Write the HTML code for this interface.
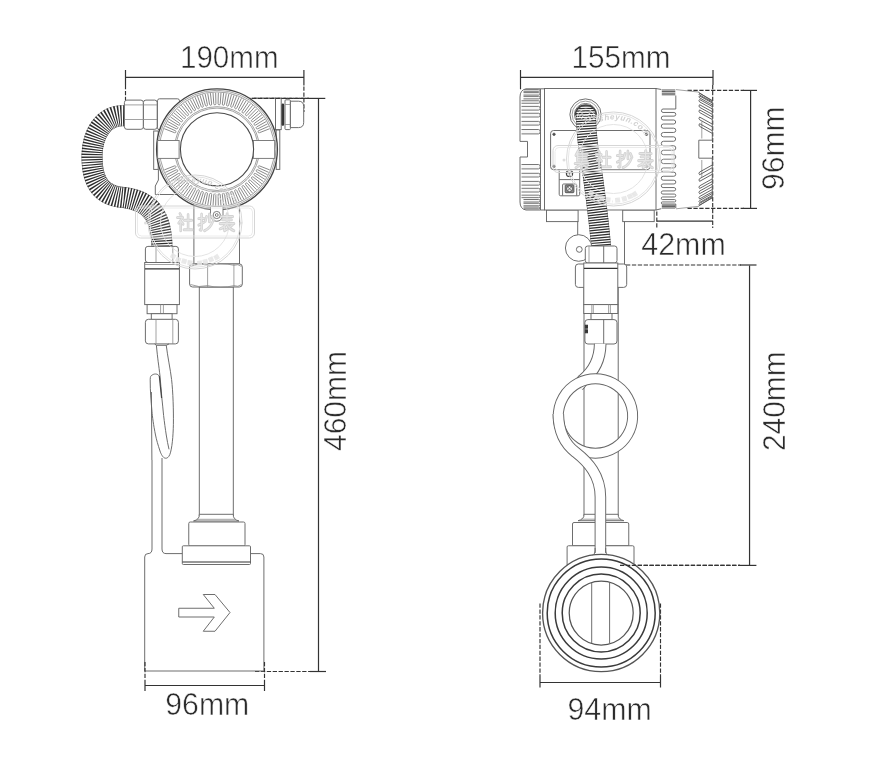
<!DOCTYPE html>
<html><head><meta charset="utf-8"><title>dimensions</title>
<style>
html,body{margin:0;padding:0;background:#fff;}
body{width:884px;height:784px;overflow:hidden;font-family:"Liberation Sans",sans-serif;}
svg{display:block}
.d{fill:none;stroke:#666;stroke-width:0.95}
.df{fill:#fff;stroke:#666;stroke-width:0.95}
.b{fill:none;stroke:#333;stroke-width:1.6}
.l{fill:none;stroke:#8a8a8a;stroke-width:0.8}
.lf{fill:#fff;stroke:#8a8a8a;stroke-width:0.8}
.k{fill:none;stroke:#333;stroke-width:1.2}
.ds{fill:none;stroke:#333;stroke-width:1.15;stroke-dasharray:4.3 1.6}
.w{fill:none;stroke:#d2d2d2;stroke-width:1}
.t{font-family:"Liberation Sans",sans-serif;fill:#2b2b2b;stroke:#fff;stroke-width:0.55px;paint-order:fill stroke;will-change:transform;}
</style></head><body>
<svg width="884" height="784" viewBox="0 0 884 784">
<rect width="884" height="784" fill="#fff"/>
<line x1="125.5" y1="77.3" x2="304" y2="77.3" class="k" />
<line x1="125.5" y1="70" x2="125.5" y2="85" class="k" />
<line x1="303.9" y1="70" x2="303.9" y2="85.5" class="k" />
<line x1="125.5" y1="85" x2="125.5" y2="100" class="ds" />
<line x1="303.9" y1="86.5" x2="303.9" y2="112" class="ds" />
<text x="180" y="68" font-size="31" textLength="98.5" lengthAdjust="spacingAndGlyphs" class="t">190mm</text>
<line x1="254" y1="98.4" x2="309" y2="98.4" class="ds" />
<line x1="309" y1="98.4" x2="325.3" y2="98.4" class="k" />
<line x1="318.5" y1="98.4" x2="318.5" y2="671.5" class="k" />
<line x1="255" y1="671.5" x2="311" y2="671.5" class="ds" />
<line x1="310" y1="671.5" x2="326" y2="671.5" class="k" />
<text x="346" y="451" font-size="31" textLength="100" lengthAdjust="spacingAndGlyphs" class="t" transform="rotate(-90 346 451)">460mm</text>
<rect x="193.9" y="200" width="45.6" height="64" rx="0" class="df" />
<rect x="199.3" y="287" width="34" height="229" rx="0" class="df" />
<path d="M127,116 C103,113 92.5,135 92,155 C91.5,184 103,196 124,197.5 C150,201 162,215 162,249" fill="none" stroke="#999" stroke-width="21"/>
<path d="M127,116 C103,113 92.5,135 92,155 C91.5,184 103,196 124,197.5 C150,201 162,215 162,249" fill="none" stroke="#fff" stroke-width="19.8"/>
<path d="M127,116 C103,113 92.5,135 92,155 C91.5,184 103,196 124,197.5 C150,201 162,215 162,249" fill="none" stroke="#2e2e2e" stroke-width="21" stroke-dasharray="1.25 1.3"/>
<rect x="157.5" y="98.8" width="22" height="31" rx="2" class="df" />
<rect x="124.4" y="100.1" width="19" height="29.2" rx="2.5" class="df" />
<rect x="143.4" y="100.1" width="13.8" height="29.2" rx="2.5" class="df" />
<line x1="125" y1="104.9" x2="157" y2="104.9" class="l" />
<line x1="125" y1="119.5" x2="157" y2="119.5" class="l" />
<rect x="250" y="98.3" width="26" height="31.5" rx="0" class="df" />
<rect x="275.5" y="98.3" width="5.7" height="31.3" rx="0" class="df" />
<rect x="282.1" y="104.2" width="1.5" height="21" rx="0.8" class="b" style="fill:#333;stroke-width:1.2"/>
<rect x="285" y="99.8" width="5.4" height="29.8" rx="1" class="df" />
<path d="M290.4,101.2 H298.5 Q303.7,101.2 303.7,106.5 V122.3 Q303.7,127.6 298.5,127.6 H290.4 Z" class="df" />
<line x1="285" y1="104.5" x2="290.4" y2="104.5" class="l" />
<line x1="285" y1="124.5" x2="290.4" y2="124.5" class="l" />
<line x1="252" y1="98.4" x2="309" y2="98.4" class="ds" />
<rect x="153.7" y="131" width="4.5" height="38.4" rx="0" class="df" />
<rect x="276.2" y="130" width="3.6" height="39.4" rx="0" class="df" />
<path d="M158.4,169.4 V180 L155.3,186 V194.5 H177" class="d" />
<circle cx="217" cy="149.3" r="60.4" class="df" style="stroke:#444;stroke-width:1.35"/>
<circle cx="217" cy="149.3" r="59" class="l" />
<circle cx="217" cy="149.3" r="57.4" class="l" />
<circle cx="217" cy="149.3" r="42.6" class="l" />
<circle cx="217" cy="149.3" r="41.2" class="l" />
<path d="M164.28,128.69 L174.53,132.70 A1,1 0 0 0 175.36,130.72 L165.31,126.23" class="l" style="stroke:#8a8a8a;stroke-width:1"/>
<path d="M166.45,123.84 L176.27,128.79 A1,1 0 0 0 177.29,126.89 L167.71,121.49" class="l" style="stroke:#8a8a8a;stroke-width:1"/>
<path d="M169.06,119.21 L178.38,125.06 A1,1 0 0 0 179.56,123.26 L170.53,116.98" class="l" style="stroke:#8a8a8a;stroke-width:1"/>
<path d="M172.10,114.84 L180.82,121.54 A1,1 0 0 0 182.17,119.87 L173.77,112.77" class="l" style="stroke:#8a8a8a;stroke-width:1"/>
<path d="M175.53,110.78 L183.59,118.27 A1,1 0 0 0 185.09,116.73 L177.39,108.87" class="l" style="stroke:#8a8a8a;stroke-width:1"/>
<path d="M179.33,107.06 L186.65,115.27 A1,1 0 0 0 188.28,113.88 L181.36,105.33" class="l" style="stroke:#8a8a8a;stroke-width:1"/>
<path d="M183.46,103.71 L189.97,112.57 A1,1 0 0 0 191.73,111.34 L185.64,102.18" class="l" style="stroke:#8a8a8a;stroke-width:1"/>
<path d="M187.88,100.77 L193.54,110.20 A1,1 0 0 0 195.41,109.14 L190.20,99.45" class="l" style="stroke:#8a8a8a;stroke-width:1"/>
<path d="M192.56,98.25 L197.31,108.17 A1,1 0 0 0 199.27,107.29 L195.00,97.15" class="l" style="stroke:#8a8a8a;stroke-width:1"/>
<path d="M197.46,96.18 L201.26,106.50 A1,1 0 0 0 203.29,105.81 L199.99,95.32" class="l" style="stroke:#8a8a8a;stroke-width:1"/>
<path d="M202.53,94.58 L205.34,105.21 A1,1 0 0 0 207.43,104.71 L205.13,93.96" class="l" style="stroke:#8a8a8a;stroke-width:1"/>
<path d="M207.73,93.46 L209.53,104.32 A1,1 0 0 0 211.66,104.01 L210.37,93.09" class="l" style="stroke:#8a8a8a;stroke-width:1"/>
<path d="M213.01,92.84 L213.79,103.81 A1,1 0 0 0 215.93,103.71 L215.67,92.72" class="l" style="stroke:#8a8a8a;stroke-width:1"/>
<path d="M218.33,92.72 L218.07,103.71 A1,1 0 0 0 220.21,103.81 L220.99,92.84" class="l" style="stroke:#8a8a8a;stroke-width:1"/>
<path d="M223.63,93.09 L222.34,104.01 A1,1 0 0 0 224.47,104.32 L226.27,93.46" class="l" style="stroke:#8a8a8a;stroke-width:1"/>
<path d="M228.87,93.96 L226.57,104.71 A1,1 0 0 0 228.66,105.21 L231.47,94.58" class="l" style="stroke:#8a8a8a;stroke-width:1"/>
<path d="M234.01,95.32 L230.71,105.81 A1,1 0 0 0 232.74,106.50 L236.54,96.18" class="l" style="stroke:#8a8a8a;stroke-width:1"/>
<path d="M239.00,97.15 L234.73,107.29 A1,1 0 0 0 236.69,108.17 L241.44,98.25" class="l" style="stroke:#8a8a8a;stroke-width:1"/>
<path d="M243.80,99.45 L238.59,109.14 A1,1 0 0 0 240.46,110.20 L246.12,100.77" class="l" style="stroke:#8a8a8a;stroke-width:1"/>
<path d="M248.36,102.18 L242.27,111.34 A1,1 0 0 0 244.03,112.57 L250.54,103.71" class="l" style="stroke:#8a8a8a;stroke-width:1"/>
<path d="M252.64,105.33 L245.72,113.88 A1,1 0 0 0 247.35,115.27 L254.67,107.06" class="l" style="stroke:#8a8a8a;stroke-width:1"/>
<path d="M256.61,108.87 L248.91,116.73 A1,1 0 0 0 250.41,118.27 L258.47,110.78" class="l" style="stroke:#8a8a8a;stroke-width:1"/>
<path d="M260.23,112.77 L251.83,119.87 A1,1 0 0 0 253.18,121.54 L261.90,114.84" class="l" style="stroke:#8a8a8a;stroke-width:1"/>
<path d="M263.47,116.98 L254.44,123.26 A1,1 0 0 0 255.62,125.06 L264.94,119.21" class="l" style="stroke:#8a8a8a;stroke-width:1"/>
<path d="M266.29,121.49 L256.71,126.89 A1,1 0 0 0 257.73,128.79 L267.55,123.84" class="l" style="stroke:#8a8a8a;stroke-width:1"/>
<path d="M268.69,126.23 L258.64,130.72 A1,1 0 0 0 259.47,132.70 L269.72,128.69" class="l" style="stroke:#8a8a8a;stroke-width:1"/>
<path d="M269.72,169.91 L259.47,165.90 A1,1 0 0 0 258.64,167.88 L268.69,172.37" class="l" style="stroke:#8a8a8a;stroke-width:1"/>
<path d="M267.55,174.76 L257.73,169.81 A1,1 0 0 0 256.71,171.71 L266.29,177.11" class="l" style="stroke:#8a8a8a;stroke-width:1"/>
<path d="M264.94,179.39 L255.62,173.54 A1,1 0 0 0 254.44,175.34 L263.47,181.62" class="l" style="stroke:#8a8a8a;stroke-width:1"/>
<path d="M261.90,183.76 L253.18,177.06 A1,1 0 0 0 251.83,178.73 L260.23,185.83" class="l" style="stroke:#8a8a8a;stroke-width:1"/>
<path d="M258.47,187.82 L250.41,180.33 A1,1 0 0 0 248.91,181.87 L256.61,189.73" class="l" style="stroke:#8a8a8a;stroke-width:1"/>
<path d="M254.67,191.54 L247.35,183.33 A1,1 0 0 0 245.72,184.72 L252.64,193.27" class="l" style="stroke:#8a8a8a;stroke-width:1"/>
<path d="M250.54,194.89 L244.03,186.03 A1,1 0 0 0 242.27,187.26 L248.36,196.42" class="l" style="stroke:#8a8a8a;stroke-width:1"/>
<path d="M246.12,197.83 L240.46,188.40 A1,1 0 0 0 238.59,189.46 L243.80,199.15" class="l" style="stroke:#8a8a8a;stroke-width:1"/>
<path d="M241.44,200.35 L236.69,190.43 A1,1 0 0 0 234.73,191.31 L239.00,201.45" class="l" style="stroke:#8a8a8a;stroke-width:1"/>
<path d="M236.54,202.42 L232.74,192.10 A1,1 0 0 0 230.71,192.79 L234.01,203.28" class="l" style="stroke:#8a8a8a;stroke-width:1"/>
<path d="M231.47,204.02 L228.66,193.39 A1,1 0 0 0 226.57,193.89 L228.87,204.64" class="l" style="stroke:#8a8a8a;stroke-width:1"/>
<path d="M226.27,205.14 L224.47,194.28 A1,1 0 0 0 222.34,194.59 L223.63,205.51" class="l" style="stroke:#8a8a8a;stroke-width:1"/>
<path d="M220.99,205.76 L220.21,194.79 A1,1 0 0 0 218.07,194.89 L218.33,205.88" class="l" style="stroke:#8a8a8a;stroke-width:1"/>
<path d="M215.67,205.88 L215.93,194.89 A1,1 0 0 0 213.79,194.79 L213.01,205.76" class="l" style="stroke:#8a8a8a;stroke-width:1"/>
<path d="M210.37,205.51 L211.66,194.59 A1,1 0 0 0 209.53,194.28 L207.73,205.14" class="l" style="stroke:#8a8a8a;stroke-width:1"/>
<path d="M205.13,204.64 L207.43,193.89 A1,1 0 0 0 205.34,193.39 L202.53,204.02" class="l" style="stroke:#8a8a8a;stroke-width:1"/>
<path d="M199.99,203.28 L203.29,192.79 A1,1 0 0 0 201.26,192.10 L197.46,202.42" class="l" style="stroke:#8a8a8a;stroke-width:1"/>
<path d="M195.00,201.45 L199.27,191.31 A1,1 0 0 0 197.31,190.43 L192.56,200.35" class="l" style="stroke:#8a8a8a;stroke-width:1"/>
<path d="M190.20,199.15 L195.41,189.46 A1,1 0 0 0 193.54,188.40 L187.88,197.83" class="l" style="stroke:#8a8a8a;stroke-width:1"/>
<path d="M185.64,196.42 L191.73,187.26 A1,1 0 0 0 189.97,186.03 L183.46,194.89" class="l" style="stroke:#8a8a8a;stroke-width:1"/>
<path d="M181.36,193.27 L188.28,184.72 A1,1 0 0 0 186.65,183.33 L179.33,191.54" class="l" style="stroke:#8a8a8a;stroke-width:1"/>
<path d="M177.39,189.73 L185.09,181.87 A1,1 0 0 0 183.59,180.33 L175.53,187.82" class="l" style="stroke:#8a8a8a;stroke-width:1"/>
<path d="M173.77,185.83 L182.17,178.73 A1,1 0 0 0 180.82,177.06 L172.10,183.76" class="l" style="stroke:#8a8a8a;stroke-width:1"/>
<path d="M170.53,181.62 L179.56,175.34 A1,1 0 0 0 178.38,173.54 L169.06,179.39" class="l" style="stroke:#8a8a8a;stroke-width:1"/>
<path d="M167.71,177.11 L177.29,171.71 A1,1 0 0 0 176.27,169.81 L166.45,174.76" class="l" style="stroke:#8a8a8a;stroke-width:1"/>
<path d="M165.31,172.37 L175.36,167.88 A1,1 0 0 0 174.53,165.90 L164.28,169.91" class="l" style="stroke:#8a8a8a;stroke-width:1"/>
<rect x="157.6" y="140.5" width="21.5" height="17.9" rx="0" class="df" style="stroke:#777"/>
<rect x="253.2" y="140.5" width="21.5" height="17.9" rx="0" class="df" style="stroke:#777"/>
<circle cx="217" cy="149.3" r="36.6" class="df" style="stroke:#4a4a4a;stroke-width:1.1"/>
<path d="M210.5,207 V215 A6.2,6.2 0 0 0 223,215 V207" class="df" />
<circle cx="216.75" cy="215" r="3.6" class="d" />
<circle cx="216.75" cy="215" r="1.4" class="d" />
<rect x="189.6" y="263.9" width="52.7" height="23.1" rx="3" class="df" />
<line x1="207.6" y1="264" x2="207.6" y2="287" class="l" />
<line x1="233.9" y1="264" x2="233.9" y2="287" class="l" />
<path d="M190.5,266.5 Q198.6,262.8 207.6,265.3 Q220.7,262 233.9,265.3 Q238,263.5 241.5,266.5 M190.5,284.5 Q198.6,288 207.6,285.6 Q220.7,289 233.9,285.6 Q238,287.5 241.5,284.5" class="l" />
<path d="M199.3,514.3 Q199.8,519.5 193.5,521 H239 Q232.8,519.5 233.3,514.3" class="df" />
<line x1="199.3" y1="514.3" x2="233.3" y2="514.3" class="d" />
<line x1="196.5" y1="519.3" x2="236" y2="519.3" class="l" />
<rect x="188.75" y="522" width="56.25" height="24" rx="1.5" class="df" />
<path d="M152,460 V549 Q152,553.6 148,553.6 Q144.7,553.6 144.7,557 V671 H263.9 V557 Q263.9,553.6 260.5,553.6 H166 Q162,553.6 162,549 V458" class="df" />
<rect x="182.3" y="545.8" width="68.2" height="18.7" rx="1" class="df" />
<line x1="182.5" y1="562" x2="250.3" y2="562" class="k" />
<path d="M178.75,608.25 H214.3 L203.25,594.5 H215 L230,612.5 L215,631.25 H203.25 L214.3,617 H178.75 Z" class="d" />
<line x1="145" y1="685.5" x2="264.5" y2="685.5" class="k" />
<line x1="145" y1="680" x2="145" y2="691" class="k" />
<line x1="264.5" y1="680" x2="264.5" y2="691" class="k" />
<line x1="145" y1="662" x2="145" y2="680" class="ds" />
<line x1="264.5" y1="662" x2="264.5" y2="680" class="ds" />
<text x="165.3" y="714.6" font-size="31" textLength="84" lengthAdjust="spacingAndGlyphs" class="t">96mm</text>
<rect x="145.4" y="246.4" width="33" height="16.1" rx="2.5" class="df" />
<line x1="156" y1="246.5" x2="156" y2="262.5" class="l" />
<line x1="172.8" y1="246.5" x2="172.8" y2="262.5" class="l" />
<rect x="144.7" y="262.5" width="34.7" height="42.1" rx="0" class="df" />
<line x1="144.7" y1="264.5" x2="179.4" y2="264.5" class="l" />
<line x1="145" y1="268.8" x2="179.2" y2="268.8" class="k" />
<rect x="147.1" y="304.6" width="29.9" height="9.1" rx="0" class="df" />
<line x1="160.6" y1="304.6" x2="160.6" y2="313.7" class="l" />
<line x1="163.4" y1="304.6" x2="163.4" y2="313.7" class="l" />
<rect x="151.3" y="313.7" width="20.8" height="5.8" rx="0" class="df" />
<rect x="145.4" y="319.3" width="33" height="24.6" rx="3" class="df" />
<line x1="156" y1="319.5" x2="156" y2="344" class="l" />
<line x1="172.8" y1="319.5" x2="172.8" y2="344" class="l" />
<path d="M154.6,343.9 L156.4,345.3 H166.3 L169,343.9" class="d" />
<path d="M166.25,345.3 C167.5,356 170.5,370 171.6,379.6 C173,392 173.6,410 173.4,424.3 C173.2,436 172,449 169.8,454.6 C168.5,457.5 167,458.4 165.4,458.2 C163,458 161,454 160,451 C158,445 156.5,440 155.5,435 C153.5,425 152.3,416 152,411.8 C151,400 150.2,392 150.2,379.6 C150.2,376.5 151,375.5 152,375.2 C153,374.3 154.5,374 155.5,374 C157.5,374 158.5,375 159.1,376" class="d" />
<path d="M156.4,345.3 C157,352 157.6,357 158.2,361.8 C158.8,366 159.4,371 160,376 C160.6,383 161.2,390 161.8,397.5 C162.4,403 163,409 163.6,415.4 C164.4,422 165.3,429 166.25,435 C167,440 168,445 169,449.3" class="d" />
<path d="M159.3,376 C160,383 160.7,390 161.6,398" class="d" style="stroke:#444;stroke-width:1.2"/>
<line x1="151.4" y1="392" x2="151.9" y2="460" class="d" />
<line x1="520.5" y1="77.3" x2="713" y2="77.3" class="k" />
<line x1="520.5" y1="70" x2="520.5" y2="85" class="k" />
<line x1="713" y1="70" x2="713" y2="85" class="k" />
<line x1="520.5" y1="85" x2="520.5" y2="90" class="ds" />
<line x1="712.7" y1="85" x2="712.7" y2="228" class="ds" />
<text x="571.5" y="68" font-size="31" textLength="99" lengthAdjust="spacingAndGlyphs" class="t">155mm</text>
<line x1="687.5" y1="90.4" x2="744" y2="90.4" class="ds" />
<line x1="687.5" y1="208.4" x2="744" y2="208.4" class="ds" />
<line x1="743" y1="90.4" x2="757" y2="90.4" class="k" />
<line x1="743" y1="208.4" x2="757" y2="208.4" class="k" />
<line x1="750.6" y1="90.4" x2="750.6" y2="208.4" class="k" />
<text x="784" y="190" font-size="31" textLength="83.5" lengthAdjust="spacingAndGlyphs" class="t" transform="rotate(-90 784 190)">96mm</text>
<line x1="656.8" y1="221.1" x2="712.8" y2="221.1" class="k" />
<line x1="656.8" y1="211.5" x2="656.8" y2="228" class="ds" />
<text x="641.3" y="255.3" font-size="31" textLength="84.5" lengthAdjust="spacingAndGlyphs" class="t">42mm</text>
<line x1="626" y1="265" x2="741" y2="265" class="ds" />
<line x1="740" y1="265" x2="756.5" y2="265" class="k" />
<line x1="749.55" y1="265.4" x2="749.55" y2="565.4" class="k" />
<line x1="620" y1="565.4" x2="740" y2="565.4" class="ds" />
<line x1="739.6" y1="565.4" x2="756.4" y2="565.4" class="k" />
<text x="785" y="451" font-size="31" textLength="99.5" lengthAdjust="spacingAndGlyphs" class="t" transform="rotate(-90 785 451)">240mm</text>
<line x1="540" y1="682.5" x2="660.5" y2="682.5" class="k" />
<line x1="540" y1="676" x2="540" y2="687.5" class="k" />
<line x1="660.5" y1="676" x2="660.5" y2="687.5" class="k" />
<line x1="540" y1="603.5" x2="540" y2="676" class="ds" />
<line x1="660.5" y1="603.5" x2="660.5" y2="676" class="ds" />
<text x="567.5" y="720" font-size="31" textLength="84.3" lengthAdjust="spacingAndGlyphs" class="t">94mm</text>
<rect x="584" y="286" width="34.2" height="230" rx="0" class="df" />
<path d="M577.7,221 V236 M624.5,221 V264.5" class="d" />
<rect x="546.5" y="210" width="31.6" height="11.6" rx="0" class="df" />
<rect x="622.7" y="210" width="31.5" height="11.6" rx="0" class="df" />
<rect x="544.5" y="88.5" width="111.5" height="121.5" rx="0" class="df" />
<path d="M540.5,88.8 H526 Q520,90 520,97 V141.4 H527.5 V157 H520 V202 Q520,209 526,210 H540.5 Z" class="df" />
<line x1="540.5" y1="88.8" x2="544.5" y2="88.8" class="d" />
<line x1="540.5" y1="210" x2="544.5" y2="210" class="d" />
<path d="M523.5,89.60 H538.6 Q540.2,89.60 540.2,90.45 Q540.2,91.30 538.6,91.30 H523.5" class="l" style="stroke:#666;stroke-width:0.9;fill:#f7f7f7"/>
<path d="M523.5,92.60 H538.6 Q540.2,92.60 540.2,93.85 Q540.2,95.10 538.6,95.10 H523.5" class="l" style="stroke:#666;stroke-width:0.9;fill:#f7f7f7"/>
<path d="M523.5,96.40 H538.6 Q540.2,96.40 540.2,97.65 Q540.2,98.90 538.6,98.90 H523.5" class="l" style="stroke:#666;stroke-width:0.9;fill:#f7f7f7"/>
<path d="M521.5,100.75 H538.6 Q540.2,100.75 540.2,102.00 Q540.2,103.25 538.6,103.25 H521.5" class="l" style="stroke:#666;stroke-width:0.9;fill:#f7f7f7"/>
<path d="M521.5,106.40 H538.6 Q540.2,106.40 540.2,108.25 Q540.2,110.10 538.6,110.10 H521.5" class="l" style="stroke:#666;stroke-width:0.9;fill:#f7f7f7"/>
<path d="M521.5,113.25 H538.6 Q540.2,113.25 540.2,115.12 Q540.2,117.00 538.6,117.00 H521.5" class="l" style="stroke:#666;stroke-width:0.9;fill:#f7f7f7"/>
<path d="M521.5,121.40 H538.6 Q540.2,121.40 540.2,123.25 Q540.2,125.10 538.6,125.10 H521.5" class="l" style="stroke:#666;stroke-width:0.9;fill:#f7f7f7"/>
<path d="M521.5,129.50 H538.6 Q540.2,129.50 540.2,131.70 Q540.2,133.90 538.6,133.90 H521.5" class="l" style="stroke:#666;stroke-width:0.9;fill:#f7f7f7"/>
<path d="M523.5,207.10 H538.6 Q540.2,207.10 540.2,207.95 Q540.2,208.80 538.6,208.80 H523.5" class="l" style="stroke:#666;stroke-width:0.9;fill:#f7f7f7"/>
<path d="M523.5,203.30 H538.6 Q540.2,203.30 540.2,204.55 Q540.2,205.80 538.6,205.80 H523.5" class="l" style="stroke:#666;stroke-width:0.9;fill:#f7f7f7"/>
<path d="M523.5,199.50 H538.6 Q540.2,199.50 540.2,200.75 Q540.2,202.00 538.6,202.00 H523.5" class="l" style="stroke:#666;stroke-width:0.9;fill:#f7f7f7"/>
<path d="M521.5,195.15 H538.6 Q540.2,195.15 540.2,196.40 Q540.2,197.65 538.6,197.65 H521.5" class="l" style="stroke:#666;stroke-width:0.9;fill:#f7f7f7"/>
<path d="M521.5,188.30 H538.6 Q540.2,188.30 540.2,190.15 Q540.2,192.00 538.6,192.00 H521.5" class="l" style="stroke:#666;stroke-width:0.9;fill:#f7f7f7"/>
<path d="M521.5,181.40 H538.6 Q540.2,181.40 540.2,183.27 Q540.2,185.15 538.6,185.15 H521.5" class="l" style="stroke:#666;stroke-width:0.9;fill:#f7f7f7"/>
<path d="M521.5,173.30 H538.6 Q540.2,173.30 540.2,175.15 Q540.2,177.00 538.6,177.00 H521.5" class="l" style="stroke:#666;stroke-width:0.9;fill:#f7f7f7"/>
<path d="M521.5,164.50 H538.6 Q540.2,164.50 540.2,166.70 Q540.2,168.90 538.6,168.90 H521.5" class="l" style="stroke:#666;stroke-width:0.9;fill:#f7f7f7"/>
<path d="M661.8,90.0 H675.3" class="l" style="stroke:#555;stroke-width:1"/>
<path d="M661.8,91.6 H675.3" class="l" style="stroke:#555;stroke-width:1"/>
<path d="M661.8,93.2 H675.3" class="l" style="stroke:#555;stroke-width:1"/>
<path d="M661.8,94.8 H675.3" class="l" style="stroke:#555;stroke-width:1"/>
<path d="M661.8,205.2 H675.3" class="l" style="stroke:#555;stroke-width:1"/>
<path d="M661.8,206.6 H675.3" class="l" style="stroke:#555;stroke-width:1"/>
<path d="M661.8,208.0 H675.3" class="l" style="stroke:#555;stroke-width:1"/>
<path d="M675.8,95.5 V109.00 H663.04 A1.74,1.74 0 0 0 663.04,112.47 H673.96 A1.84,1.84 0 0 1 673.96,116.15 H663.23 A1.93,1.93 0 0 0 663.23,120.01 H673.79 A2.01,2.01 0 0 1 673.79,124.02 H663.38 A2.08,2.08 0 0 0 663.38,128.18 H673.66 A2.14,2.14 0 0 1 673.66,132.46 H663.48 A2.18,2.18 0 0 0 663.48,136.83 H673.58 A2.22,2.22 0 0 1 673.58,141.26 H663.54 A2.24,2.24 0 0 0 663.54,145.74 H673.55 A2.25,2.25 0 0 1 673.55,150.24 H663.55 A2.25,2.25 0 0 0 663.55,154.74 H673.57 A2.23,2.23 0 0 1 673.57,159.20 H663.50 A2.20,2.20 0 0 0 663.50,163.61 H673.64 A2.16,2.16 0 0 1 673.64,167.93 H663.41 A2.11,2.11 0 0 0 663.41,172.16 H673.75 A2.05,2.05 0 0 1 673.75,176.26 H663.27 A1.97,1.97 0 0 0 663.27,180.20 H673.91 A1.89,1.89 0 0 1 673.91,183.98 H663.09 A1.79,1.79 0 0 0 663.09,187.56 H674.11 A1.69,1.69 0 0 1 674.11,190.93 H662.87 A1.57,1.57 0 0 0 662.87,194.07 H674.35 A1.45,1.45 0 0 1 674.35,196.97 H662.61 A1.31,1.31 0 0 0 662.61,199.59 H674.63 A1.17,1.17 0 0 1 674.63,201.94 H662.33 A1.03,1.03 0 0 0 662.33,204.00 H674.77 H675.8 V208" class="l" style="stroke:#606060;stroke-width:0.9"/>
<path d="M656,88.5 L661.3,89.5 M656,210 L661.3,208.7" class="d" />
<path d="M676,89.6 L698.2,92 M676,208.8 L698.2,206.4" class="l" />
<path d="M698.2,92 L712.3,101.2 V140.2 H698.8 V158.2 H712.3 V197.2 L698.2,206.4" class="d" />
<path d="M701.8,121.5 V138.5 M701.8,160 V177" class="l" />
<path d="M712,100.30 L699.6,93.40 Q698.3,94.20 699.6,95.00 L712,101.90" class="l" style="stroke:#555;stroke-width:0.9"/>
<path d="M712,198.10 L699.6,205.00 Q698.3,204.20 699.6,203.40 L712,196.50" class="l" style="stroke:#555;stroke-width:0.9"/>
<path d="M712,102.85 L699.6,95.95 Q698.3,96.90 699.6,97.85 L712,104.75" class="l" style="stroke:#555;stroke-width:0.9"/>
<path d="M712,195.55 L699.6,202.45 Q698.3,201.50 699.6,200.55 L712,193.65" class="l" style="stroke:#555;stroke-width:0.9"/>
<path d="M712,106.40 L699.6,99.50 Q698.3,100.70 699.6,101.90 L712,108.80" class="l" style="stroke:#555;stroke-width:0.9"/>
<path d="M712,192.00 L699.6,198.90 Q698.3,197.70 699.6,196.50 L712,189.60" class="l" style="stroke:#555;stroke-width:0.9"/>
<path d="M712,111.60 L699.6,104.70 Q698.3,106.00 699.6,107.30 L712,114.20" class="l" style="stroke:#555;stroke-width:0.9"/>
<path d="M712,186.80 L699.6,193.70 Q698.3,192.40 699.6,191.10 L712,184.20" class="l" style="stroke:#555;stroke-width:0.9"/>
<path d="M712,116.80 L699.6,109.90 Q698.3,111.20 699.6,112.50 L712,119.40" class="l" style="stroke:#555;stroke-width:0.9"/>
<path d="M712,181.60 L699.6,188.50 Q698.3,187.20 699.6,185.90 L712,179.00" class="l" style="stroke:#555;stroke-width:0.9"/>
<path d="M712,123.95 L699.6,117.05 Q698.3,118.40 699.6,119.75 L712,126.65" class="l" style="stroke:#555;stroke-width:0.9"/>
<path d="M712,174.45 L699.6,181.35 Q698.3,180.00 699.6,178.65 L712,171.75" class="l" style="stroke:#555;stroke-width:0.9"/>
<path d="M712,130.55 L699.6,123.65 Q698.3,125.00 699.6,126.35 L712,133.25" class="l" style="stroke:#555;stroke-width:0.9"/>
<path d="M712,167.85 L699.6,174.75 Q698.3,173.40 699.6,172.05 L712,165.15" class="l" style="stroke:#555;stroke-width:0.9"/>
<rect x="550.6" y="130.5" width="99.4" height="39.2" rx="3" class="df" />
<circle cx="554" cy="134.3" r="1.2" class="d" style="fill:#444"/>
<circle cx="554" cy="166.3" r="1.2" class="d" style="fill:#444"/>
<circle cx="646.5" cy="134.3" r="1.2" class="d" style="fill:#444"/>
<circle cx="646.5" cy="166.3" r="1.2" class="d" style="fill:#444"/>
<path d="M559.2,169.7 V194.3 Q559.2,195.8 560.7,195.8 H578.2 Q579.7,195.8 579.7,194.3 V169.7" class="df" />
<line x1="559.2" y1="179.6" x2="579.7" y2="179.6" class="d" />
<path d="M562.6,195.5 V185 Q562.6,184 563.6,184 H575.7 Q576.7,184 576.7,185 V195.5" class="d" />
<rect x="565.2" y="184.9" width="8.7" height="7.8" rx="0.8" class="d" style="fill:#8a8a8a;stroke:#555"/>
<circle cx="569.55" cy="188.8" r="2.9" class="d" style="fill:#f4f4f4;stroke:#444;stroke-width:0.8"/>
<path d="M567.5,186.8 L571.6,190.8 M571.6,186.8 L567.5,190.8" class="d" style="stroke:#555;stroke-width:0.8"/>
<circle cx="569.5" cy="173.4" r="3.1" class="d" style="stroke:#444;stroke-width:1.2"/>
<path d="M566.6,172.8 H572.4 M569.5,172.8 V176.3" class="d" style="stroke:#444;stroke-width:1.1"/>
<circle cx="585.5" cy="114.5" r="15.6" class="df" />
<circle cx="585.5" cy="114.5" r="13.4" class="l" />
<circle cx="585.5" cy="114.5" r="11" class="d" />
<clipPath id="hc"><circle cx="585.8" cy="114.5" r="10.6"/><rect x="560" y="114.5" width="70" height="140"/></clipPath>
<g clip-path="url(#hc)">
<path d="M585.6,100 C585.8,135 588.5,150 592,170 C595.5,196 599.5,225 601,247" fill="none" stroke="#999" stroke-width="20"/>
<path d="M585.6,100 C585.8,135 588.5,150 592,170 C595.5,196 599.5,225 601,247" fill="none" stroke="#fff" stroke-width="18.8"/>
<path d="M585.6,100 C585.8,135 588.5,150 592,170 C595.5,196 599.5,225 601,247" fill="none" stroke="#2e2e2e" stroke-width="20" stroke-dasharray="1.25 1.3"/>
</g>
<path d="M575.3,115.5 A10.5,10.5 0 0 1 596.3,115.5" class="d" style="stroke:#444;stroke-width:1.3"/>
<path d="M577.4,116.7 A8.4,7.6 0 0 1 594.2,116.7" class="d" style="stroke:#fff;stroke-width:0.9;stroke-opacity:0.8"/>
<path d="M579.5,117.9 A6.3,5.7 0 0 1 592.1,117.9" class="d" style="stroke:#fff;stroke-width:0.9;stroke-opacity:0.8"/>
<path d="M581.6,119.1 A4.2,3.8 0 0 1 590.0,119.1" class="d" style="stroke:#fff;stroke-width:0.9;stroke-opacity:0.8"/>
<path d="M583.7,120.3 A2.1,1.9 0 0 1 587.9,120.3" class="d" style="stroke:#fff;stroke-width:0.9;stroke-opacity:0.8"/>
<circle cx="578.7" cy="248" r="13.3" class="df" />
<circle cx="579.3" cy="249.4" r="2.9" class="d" />
<rect x="575.4" y="264" width="51.3" height="23.4" rx="3" class="df" />
<rect x="585.3" y="246" width="31.7" height="17" rx="2.5" class="df" />
<line x1="589" y1="246.5" x2="589" y2="262.5" class="l" />
<line x1="603.7" y1="246" x2="603.7" y2="263" class="d" />
<rect x="583.8" y="263" width="34" height="41.6" rx="0" class="df" />
<line x1="584" y1="268.3" x2="617.6" y2="268.3" class="k" />
<rect x="583.8" y="304.6" width="34" height="8.9" rx="0" class="df" />
<path d="M591.8,304.6 V313.5 M593.3,304.6 V313.5 M608.6,304.6 V313.5 M610.4,304.6 V313.5" class="l" />
<rect x="591" y="313.5" width="21" height="6.1" rx="0" class="df" />
<rect x="584.9" y="319.6" width="32.1" height="24.4" rx="3" class="df" />
<line x1="603.7" y1="319.6" x2="603.7" y2="344" class="d" />
<rect x="585.3" y="325.2" width="2.2" height="3" rx="0" class="d" style="fill:#333;stroke:#333"/>
<rect x="585.3" y="329.8" width="2.2" height="3" rx="0" class="d" style="fill:#333;stroke:#333"/>
<path d="M584,514.3 Q584.4,519.3 578,520.7 H623.8 Q617.8,519.3 618.2,514.3" class="df" />
<line x1="584" y1="514.3" x2="618.2" y2="514.3" class="d" />
<line x1="581" y1="519.2" x2="621" y2="519.2" class="l" />
<path d="M572.5,545.75 V524 Q572.5,522.5 574,522.5 H627.2 Q628.75,522.5 628.75,524 V545.75 Z" class="df" />
<path d="M567.1,565 V547 Q567.1,545.75 568.5,545.75 H632.6 Q634,545.75 634,547 V565 Z" class="df" />
<path d="M600.2,343.8 C600,360 594,371 583,380 L578,386" fill="none" stroke="#666" stroke-width="12.549999999999999"/>
<path d="M600.2,343.8 C600,360 594,371 583,380 L578,386" fill="none" stroke="#fff" stroke-width="10.65"/>
<path d="M595.5,378.8 A37.2,37.2 0 1 1 595.4,378.8 Z" fill="none" stroke="#666" stroke-width="10.95"/>
<path d="M595.5,378.8 A37.2,37.2 0 1 1 595.4,378.8 Z" fill="none" stroke="#fff" stroke-width="9.05"/>
<path d="M558.3,414 C558.6,433 566,445 575.7,452.3 C588,462 600.4,475 600.4,497 V553" fill="none" stroke="#666" stroke-width="11.549999999999999"/>
<path d="M558.3,414 C558.6,433 566,445 575.7,452.3 C588,462 600.4,475 600.4,497 V553" fill="none" stroke="#fff" stroke-width="9.65"/>
<circle cx="601.2" cy="613" r="58.6" class="df" style="stroke:#555;stroke-width:1.35"/>
<circle cx="601.2" cy="613" r="54" class="d" style="stroke:#3a3a3a;stroke-width:1.5"/>
<circle cx="601.2" cy="613" r="46" class="d" style="stroke:#3a3a3a;stroke-width:1.5"/>
<circle cx="601.2" cy="613" r="39" class="d" style="stroke:#3a3a3a;stroke-width:1.5"/>
<circle cx="601.2" cy="613" r="32" class="d" style="stroke:#555;stroke-width:1.25"/>
<line x1="591.7" y1="583" x2="591.7" y2="643" class="d" />
<line x1="609.6" y1="583" x2="609.6" y2="643" class="d" />
<line x1="620" y1="565.4" x2="740" y2="565.4" class="ds" />
<path d="M595.1,548 V551 Q595.1,554.5 592.5,555 M605.7,548 V551 Q605.7,554.5 608.5,555" class="d" />
<g opacity="0.95">
<circle cx="195" cy="222" r="47" class="w" />
<circle cx="195" cy="222" r="45.2" class="w" style="stroke:#e2e2e2"/>
<circle cx="195" cy="222" r="34.5" class="w" style="stroke:#e2e2e2"/>
<rect x="135.5" y="206.0" width="119" height="32" rx="5" fill="#fff" fill-opacity="0.12" stroke="#d4d4d4" stroke-width="1"/>
<rect x="137.5" y="208.0" width="115" height="28" rx="4" fill="none" stroke="#e4e4e4" stroke-width="0.8"/>
<path id="arcTL" d="M155.5,222 A39.5,39.5 0 0 1 234.5,222" fill="none"/>
<path id="arcBL" d="M152.5,222 A42.5,42.5 0 0 0 237.5,222" fill="none"/>
<text font-size="8" font-style="italic" font-weight="bold" fill="#cfcfcf" font-family="Liberation Sans, sans-serif" letter-spacing="0.55"><textPath href="#arcTL" startOffset="36.5%" text-anchor="start">jsheyun.com</textPath></text>
<text font-size="6" font-weight="bold" fill="#e6e6e6" font-family="Liberation Sans, sans-serif" letter-spacing="0.2"><textPath href="#arcBL" startOffset="50%" text-anchor="middle">&#x25A6;&#x25A9;&#x25A6;&#x25A9;, &#x25A9;&#x25A6;&#x25A9;&#x25A6;</textPath></text>
<circle cx="145.5" cy="223" r="1.5" class="w" style="fill:#ddd;stroke:none"/>
<circle cx="241" cy="223" r="1.5" class="w" style="fill:#ddd;stroke:none"/>
<g transform="translate(176.20000000000002,212.7) scale(0.82,0.95)"><path d="M4.5,1 L6,3 M1.5,5 H8 L3,11 M5.5,8.5 V19 M6,9.5 L8.5,12 M10,8 H19 M14.5,2 V18 M9.5,18 H19.5" fill="none" stroke="#d0d0d0" stroke-width="3.2" stroke-linecap="round" stroke-linejoin="round"/><path d="M4.5,1 L6,3 M1.5,5 H8 L3,11 M5.5,8.5 V19 M6,9.5 L8.5,12 M10,8 H19 M14.5,2 V18 M9.5,18 H19.5" fill="none" stroke="#fff" stroke-opacity="0.45" stroke-width="1.3" stroke-linecap="round" stroke-linejoin="round"/></g>
<g transform="translate(197.5,212.7) scale(0.82,0.95)"><path d="M1.5,6 H8 M5,1.5 V17 Q5,19 3,18 M1.5,13 L8,10 M14.5,1.5 V9.5 M11,4 L9.5,9 M17.5,4 L19.5,8 M18.5,9.5 Q16,16 8.5,19" fill="none" stroke="#d0d0d0" stroke-width="3.2" stroke-linecap="round" stroke-linejoin="round"/><path d="M1.5,6 H8 M5,1.5 V17 Q5,19 3,18 M1.5,13 L8,10 M14.5,1.5 V9.5 M11,4 L9.5,9 M17.5,4 L19.5,8 M18.5,9.5 Q16,16 8.5,19" fill="none" stroke="#fff" stroke-opacity="0.45" stroke-width="1.3" stroke-linecap="round" stroke-linejoin="round"/></g>
<g transform="translate(218.8,212.7) scale(0.82,0.95)"><path d="M3,4 H17 M10,1 V11.5 M4.5,7.5 H15.5 M1.5,11.5 H18.5 M9.5,11.5 Q7,15.5 1.5,17 M7,14.5 V19 L10.5,17 M16.5,13 L12.5,15.5 M10.5,13 Q13,17.5 18.5,19" fill="none" stroke="#d0d0d0" stroke-width="3.2" stroke-linecap="round" stroke-linejoin="round"/><path d="M3,4 H17 M10,1 V11.5 M4.5,7.5 H15.5 M1.5,11.5 H18.5 M9.5,11.5 Q7,15.5 1.5,17 M7,14.5 V19 L10.5,17 M16.5,13 L12.5,15.5 M10.5,13 Q13,17.5 18.5,19" fill="none" stroke="#fff" stroke-opacity="0.45" stroke-width="1.3" stroke-linecap="round" stroke-linejoin="round"/></g>
</g>
<g opacity="0.95">
<circle cx="613.5" cy="159" r="47" class="w" />
<circle cx="613.5" cy="159" r="45.2" class="w" style="stroke:#e2e2e2"/>
<circle cx="613.5" cy="159" r="34.5" class="w" style="stroke:#e2e2e2"/>
<rect x="553.0" y="145.5" width="121" height="27" rx="5" fill="#fff" fill-opacity="0.12" stroke="#d4d4d4" stroke-width="1"/>
<rect x="555.0" y="147.5" width="117" height="23" rx="4" fill="none" stroke="#e4e4e4" stroke-width="0.8"/>
<path id="arcTR" d="M574.0,159 A39.5,39.5 0 0 1 653.0,159" fill="none"/>
<path id="arcBR" d="M571.0,159 A42.5,42.5 0 0 0 656.0,159" fill="none"/>
<text font-size="8" font-style="italic" font-weight="bold" fill="#cfcfcf" font-family="Liberation Sans, sans-serif" letter-spacing="0.55"><textPath href="#arcTR" startOffset="36.5%" text-anchor="start">jsheyun.com</textPath></text>
<text font-size="6" font-weight="bold" fill="#e6e6e6" font-family="Liberation Sans, sans-serif" letter-spacing="0.2"><textPath href="#arcBR" startOffset="50%" text-anchor="middle">&#x25A6;&#x25A9;&#x25A6;&#x25A9;, &#x25A9;&#x25A6;&#x25A9;&#x25A6;</textPath></text>
<circle cx="564.0" cy="160" r="1.5" class="w" style="fill:#ddd;stroke:none"/>
<circle cx="659.5" cy="160" r="1.5" class="w" style="fill:#ddd;stroke:none"/>
<g transform="translate(573.4,149.7) scale(0.82,0.95)"><path d="M6,1 L3,6 M5,4 V12 M5,4.5 H17 M11,1.5 L10,4.5 M11,4.5 V12 M5,7 H16 M5,9.5 H16 M5,12 H17 M2,14.5 H18 M10,12.5 V19.5 M9.5,15 L3,19 M10.5,15 L17,19" fill="none" stroke="#d0d0d0" stroke-width="3.2" stroke-linecap="round" stroke-linejoin="round"/><path d="M6,1 L3,6 M5,4 V12 M5,4.5 H17 M11,1.5 L10,4.5 M11,4.5 V12 M5,7 H16 M5,9.5 H16 M5,12 H17 M2,14.5 H18 M10,12.5 V19.5 M9.5,15 L3,19 M10.5,15 L17,19" fill="none" stroke="#fff" stroke-opacity="0.45" stroke-width="1.3" stroke-linecap="round" stroke-linejoin="round"/></g>
<g transform="translate(594.6999999999999,149.7) scale(0.82,0.95)"><path d="M4.5,1 L6,3 M1.5,5 H8 L3,11 M5.5,8.5 V19 M6,9.5 L8.5,12 M10,8 H19 M14.5,2 V18 M9.5,18 H19.5" fill="none" stroke="#d0d0d0" stroke-width="3.2" stroke-linecap="round" stroke-linejoin="round"/><path d="M4.5,1 L6,3 M1.5,5 H8 L3,11 M5.5,8.5 V19 M6,9.5 L8.5,12 M10,8 H19 M14.5,2 V18 M9.5,18 H19.5" fill="none" stroke="#fff" stroke-opacity="0.45" stroke-width="1.3" stroke-linecap="round" stroke-linejoin="round"/></g>
<g transform="translate(616.0,149.7) scale(0.82,0.95)"><path d="M1.5,6 H8 M5,1.5 V17 Q5,19 3,18 M1.5,13 L8,10 M14.5,1.5 V9.5 M11,4 L9.5,9 M17.5,4 L19.5,8 M18.5,9.5 Q16,16 8.5,19" fill="none" stroke="#d0d0d0" stroke-width="3.2" stroke-linecap="round" stroke-linejoin="round"/><path d="M1.5,6 H8 M5,1.5 V17 Q5,19 3,18 M1.5,13 L8,10 M14.5,1.5 V9.5 M11,4 L9.5,9 M17.5,4 L19.5,8 M18.5,9.5 Q16,16 8.5,19" fill="none" stroke="#fff" stroke-opacity="0.45" stroke-width="1.3" stroke-linecap="round" stroke-linejoin="round"/></g>
<g transform="translate(637.3,149.7) scale(0.82,0.95)"><path d="M3,4 H17 M10,1 V11.5 M4.5,7.5 H15.5 M1.5,11.5 H18.5 M9.5,11.5 Q7,15.5 1.5,17 M7,14.5 V19 L10.5,17 M16.5,13 L12.5,15.5 M10.5,13 Q13,17.5 18.5,19" fill="none" stroke="#d0d0d0" stroke-width="3.2" stroke-linecap="round" stroke-linejoin="round"/><path d="M3,4 H17 M10,1 V11.5 M4.5,7.5 H15.5 M1.5,11.5 H18.5 M9.5,11.5 Q7,15.5 1.5,17 M7,14.5 V19 L10.5,17 M16.5,13 L12.5,15.5 M10.5,13 Q13,17.5 18.5,19" fill="none" stroke="#fff" stroke-opacity="0.45" stroke-width="1.3" stroke-linecap="round" stroke-linejoin="round"/></g>
</g>
</svg></body></html>
